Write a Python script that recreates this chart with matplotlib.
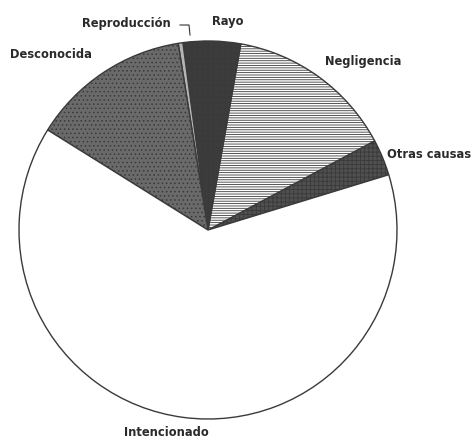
import matplotlib.pyplot as plt

labels = ['Otras causas', 'Negligencia', 'Rayo', 'Reproducción', 'Desconocida', 'Intencionado']
values = [3.1, 14.4, 4.9, 0.4, 13.6, 63.6]
colors = ['#505050', '#ffffff', '#3c3c3c', '#b5b5b5', '#6a6a6a', '#ffffff']
hatches = ['++++', '-------', '+++', '', '....', '']

plt.rcParams['hatch.linewidth'] = 0.6

fig = plt.figure(figsize=(4.77, 4.42), dpi=100)
ax = fig.add_axes([0, 0, 1, 1])

wedges, _ = ax.pie(values, colors=colors, startangle=17, counterclock=True,
                   radius=189, center=(208, 212), frame=True,
                   wedgeprops=dict(edgecolor='#3a3a3a', linewidth=1.0))
for w, h in zip(wedges, hatches):
    w.set_hatch(h)
ax.set_xlim(0, 477)
ax.set_ylim(0, 442)
ax.set_aspect('equal')
ax.axis('off')

font = dict(family='DejaVu Sans', fontsize=8.3, fontweight='bold', color='#2a2a2a')
ax.text(10, 387, 'Desconocida', ha='left', va='center', **font)
ax.text(82, 418, 'Reproducción', ha='left', va='center', **font)
ax.plot([180, 189, 190], [417, 417, 407], color='#333333', lw=0.8)
ax.text(228, 420, 'Rayo', ha='center', va='center', **font)
ax.text(325, 381, 'Negligencia', ha='left', va='center', **font)
ax.text(387, 287, 'Otras causas', ha='left', va='center', **font)
ax.text(166, 10, 'Intencionado', ha='center', va='center', **font)

plt.savefig('out.png', dpi=100)
